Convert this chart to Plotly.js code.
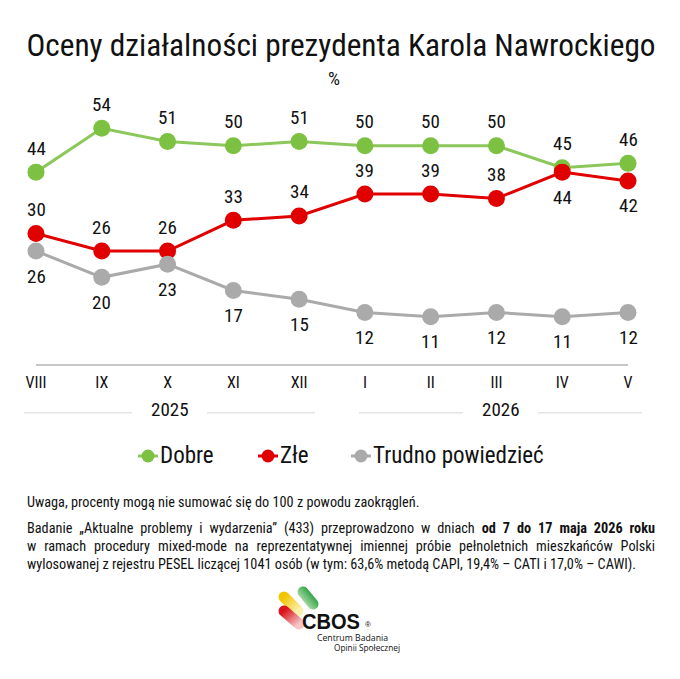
<!DOCTYPE html>
<html>
<head>
<meta charset="utf-8">
<script src="https://cdn.plot.ly/plotly-3.0.1.min.js"></script>
<style>
  html, body { margin:0; padding:0; background:#fff; }
  #wrap { position:relative; width:680px; height:679px; overflow:hidden; }
  #chart { position:absolute; left:0; top:0; width:680px; height:679px; }
  #notes { position:absolute; left:27px; top:493px; width:628px; color:#111;
           font-family:'Liberation Sans Narrow','Roboto Condensed','DejaVu Sans Condensed',sans-serif;
           font-size:14.25px; line-height:18px; }
  #notes div { margin:0; }
  #notes .first { margin-top:8px; }
  #notes .jl { text-align:justify; text-align-last:justify; }
  #logo { position:absolute; left:270px; top:580px; }
</style>
</head>
<body>
<div id="wrap">
  <div id="chart"></div>
  <div id="notes">
    <div>Uwaga, procenty mogą nie sumować się do 100 z powodu zaokrągleń.</div>
    <div class="jl first">Badanie „Aktualne problemy i wydarzenia” (433) przeprowadzono w dniach <b>od 7 do 17 maja 2026 roku</b></div>
    <div class="jl">w ramach procedury mixed-mode na reprezentatywnej imiennej próbie pełnoletnich mieszkańców Polski</div>
    <div>wylosowanej z rejestru PESEL liczącej 1041 osób (w tym: 63,6% metodą CAPI, 19,4% – CATI i 17,0% – CAWI).</div>
  </div>
  <svg id="logo" width="150" height="80" viewBox="270 580 150 80">
    <defs>
      <linearGradient id="gy" x1="0" y1="0" x2="1" y2="1">
        <stop offset="0" stop-color="#f2c500"/><stop offset="1" stop-color="#fbf0b0"/>
      </linearGradient>
      <linearGradient id="gg" x1="1" y1="0" x2="0" y2="1">
        <stop offset="0" stop-color="#1f9a3a"/><stop offset="1" stop-color="#b9e0b0"/>
      </linearGradient>
      <linearGradient id="gr" x1="0" y1="0" x2="1" y2="1">
        <stop offset="0" stop-color="#d9141c"/><stop offset="1" stop-color="#f6c6c6"/>
      </linearGradient>
    </defs>
    <line x1="284" y1="597" x2="298" y2="611" stroke="url(#gy)" stroke-width="11" stroke-linecap="round"/>
    <line x1="303" y1="592" x2="313" y2="604" stroke="url(#gg)" stroke-width="11" stroke-linecap="round"/>
    <line x1="284" y1="611" x2="299" y2="624" stroke="url(#gr)" stroke-width="11" stroke-linecap="round"/>
    <text x="302" y="628.5" font-family="Liberation Sans, Arial, sans-serif" font-weight="bold" font-size="22" textLength="58" lengthAdjust="spacingAndGlyphs" fill="#111">CBOS</text>
    <text x="365" y="627" font-family="Liberation Sans, Arial, sans-serif" font-size="8" fill="#111">®</text>
    <text x="317" y="641" font-family="'Open Sans', sans-serif" font-size="8.5" textLength="71" lengthAdjust="spacingAndGlyphs" fill="#111">Centrum Badania</text>
    <text x="334" y="650.5" font-family="'Open Sans', sans-serif" font-size="8.5" textLength="66" lengthAdjust="spacingAndGlyphs" fill="#111">Opinii Społecznej</text>
  </svg>
</div>
<script>
const months = ['VIII','IX','X','XI','XII','I','II','III','IV','V'];
const dobre  = [44, 54, 51, 50, 51, 50, 50, 50, 45, 46];
const zle    = [30, 26, 26, 33, 34, 39, 39, 38, 44, 42];
const trudno = [26, 20, 23, 17, 15, 12, 11, 12, 11, 12];
const zleLabelBelow = [false,false,false,false,false,false,false,false,true,true];
const years = ['2025', '2026'];
const yearCenterMonth = ['X', 'III'];
const seriesNames = ['Dobre', 'Złe', 'Trudno powiedzieć'];

const FONT = "'Liberation Sans Narrow','Roboto Condensed','DejaVu Sans Condensed',sans-serif";
const GREEN = '#7dc142', GREEN_LINE = '#8cc75c', RED = '#e00000', GRAY = '#aaaaaa';
const markerColors = [GREEN, RED, GRAY];
const lineColors = [GREEN_LINE, RED, GRAY];
const seriesValues = [dobre, zle, trudno];

const data = seriesValues.map((ys, k) => ({
  type: 'scatter', mode: 'lines+markers', name: seriesNames[k],
  x: months, y: ys, cliponaxis: false, showlegend: false,
  line: { color: lineColors[k], width: 3 },
  marker: { color: markerColors[k], size: 17 },
  hoverinfo: 'skip'
}));

const annotations = [];
function addLabels(ys, belowFn) {
  ys.forEach((v, i) => {
    const below = belowFn(i);
    annotations.push({
      x: months[i], y: v, xref: 'x', yref: 'y', text: String(v), showarrow: false,
      xanchor: 'center', yanchor: 'middle',
      yshift: below ? -25 : 24, font: { family: FONT, size: 19, color: '#111' }
    });
  });
}
addLabels(dobre, () => false);
addLabels(zle, i => zleLabelBelow[i]);
addLabels(trudno, () => true);

annotations.push({
  xref: 'paper', yref: 'paper', x: 0.503, y: 1.091, text: '%', showarrow: false,
  xanchor: 'center', yanchor: 'middle',
  font: { family: FONT, size: 19, color: '#111' }
});
const yearOffsets = [0.04, 0.07];
years.forEach((yr, k) => {
  annotations.push({
    xref: 'x', yref: 'paper', x: months.indexOf(yearCenterMonth[k]) + yearOffsets[k], y: -0.171,
    xanchor: 'center', yanchor: 'middle',
    text: yr, showarrow: false, font: { family: FONT, size: 19, color: '#111' }
  });
});

const segs = [[-0.0203, 0.1622], [0.2889, 0.4713], [0.5456, 0.7213], [0.848, 1.0236]];
const shapes = segs.map(s => ({
  type: 'line', xref: 'paper', yref: 'paper', x0: s[0], x1: s[1], y0: -0.1814, y1: -0.1814,
  line: { color: '#e4e4e4', width: 1.5 }
}));
shapes.push({
  type: 'line', xref: 'paper', yref: 'paper', x0: 0, x1: 1, y0: 0, y1: 0,
  line: { color: '#b4b4b4', width: 1.5 }
});

// custom legend (symbol start positions in paper x)
const legendStart = [0.1723, 0.375, 0.5321];
const legendY = -0.346;
const PX = 1 / 592;
seriesNames.forEach((nm, k) => {
  const x0 = legendStart[k];
  shapes.push({
    type: 'line', xref: 'paper', yref: 'paper', x0: x0, x1: x0 + 20 * PX, y0: legendY, y1: legendY,
    line: { color: lineColors[k], width: 3 }
  });
  shapes.push({
    type: 'circle', xref: 'paper', yref: 'paper', xsizemode: 'pixel', ysizemode: 'pixel',
    xanchor: x0 + 10 * PX, yanchor: legendY, x0: -6.5, x1: 6.5, y0: -6.5, y1: 6.5,
    fillcolor: markerColors[k], line: { width: 0 }
  });
  annotations.push({
    xref: 'paper', yref: 'paper', x: x0 + 20 * PX, y: legendY, xanchor: 'left', yanchor: 'middle',
    text: nm, showarrow: false, font: { family: FONT, size: 23, color: '#111' }
  });
});

const layout = {
  width: 680, height: 679,
  margin: { l: 36, r: 52, t: 102, b: 314 },
  paper_bgcolor: '#ffffff', plot_bgcolor: '#ffffff',
  showlegend: false,
  title: {
    text: 'Oceny działalności prezydenta Karola Nawrockiego',
    xref: 'container', yref: 'container', x: 0.5015, y: 1 - 45/679,
    xanchor: 'center', yanchor: 'middle',
    font: { family: FONT, size: 31.3, color: '#111' }
  },
  xaxis: {
    type: 'category', categoryarray: months, range: [0, 9],
    showgrid: false, zeroline: false, showline: false, ticks: '',
    tickfont: { family: FONT, size: 16, color: '#111' }, ticklabelstandoff: 6,
    fixedrange: true
  },
  yaxis: {
    range: [0, 60], visible: false, showgrid: false, zeroline: false, fixedrange: true
  },
  annotations: annotations,
  shapes: shapes
};

Plotly.newPlot('chart', data, layout, { displayModeBar: false, staticPlot: true });
</script>
</body>
</html>
